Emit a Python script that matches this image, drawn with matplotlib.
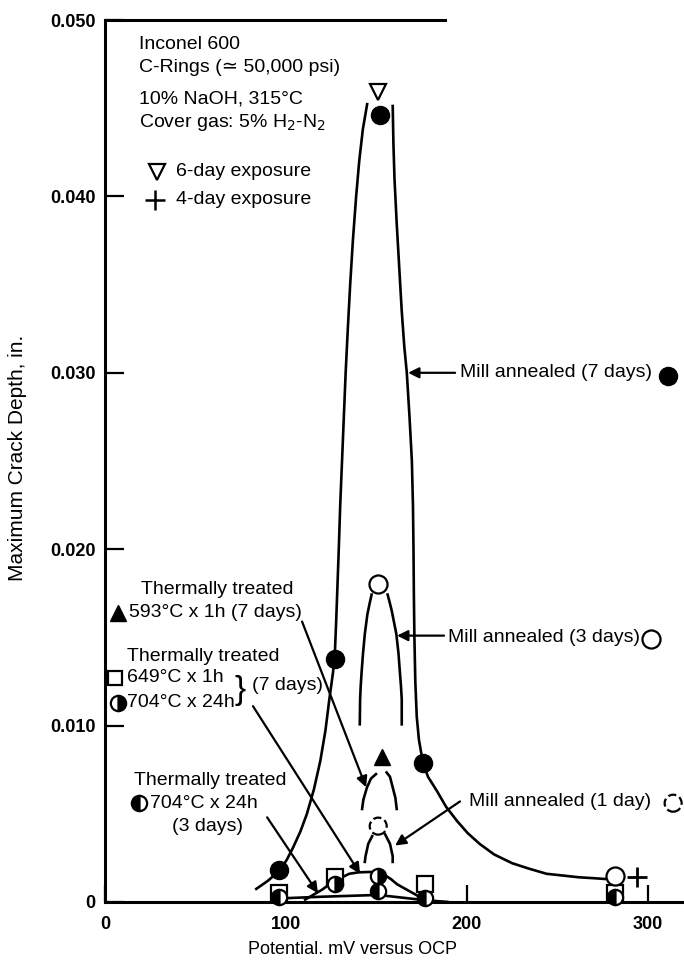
import matplotlib.pyplot as plt
import numpy as np

plt.rcParams['font.family'] = ['Liberation Sans', 'DejaVu Sans']

# --- data (potential mV, max crack depth in.) ---
ma7_x = [96, 127, 152, 176]
ma7_y = [0.0018, 0.0138, 0.0446, 0.0079]
ma3_x = [151, 282]
ma3_y = [0.0180, 0.0015]
ma1_x = [151]
ma1_y = [0.0043]
six_day_x = [151]
six_day_y = [0.0459]
four_day_x = [294]
four_day_y = [0.0014]
tt593_x = [153]
tt593_y = [0.0082]
tt649_x = [96, 127, 177, 282]
tt649_y = [0.0005, 0.0014, 0.0010, 0.0005]
tt704_7_x = [127, 151]
tt704_7_y = [0.0010, 0.0015]
tt704_3_x = [96, 151, 177, 282]
tt704_3_y = [0.0003, 0.0006, 0.0002, 0.0003]

# hand drawn curves
ma7_left_x = [83, 90, 96.7, 100.5, 104, 108, 111.6, 115.5, 119, 121.8, 124, 126, 127,
              127.8, 128.5, 129.2, 130, 131, 132, 133, 134.2, 135.5, 137, 138.8, 140.5,
              142.5, 145]
ma7_left_y = [0.0007, 0.0012, 0.0018, 0.0024, 0.0031, 0.0040, 0.0050, 0.0064, 0.0080,
              0.0097, 0.0115, 0.0130, 0.0140, 0.0160, 0.0180, 0.0200, 0.0225, 0.0250,
              0.0275, 0.0300, 0.0325, 0.0350, 0.0375, 0.0400, 0.0420, 0.0438, 0.0453]
ma7_right_x = [159, 159.4, 160, 161.2, 162.6, 164, 165.4, 166.8, 168.3, 169.6, 170.2,
               170.5, 170.7, 171, 171.5, 172.3, 173.5, 175.7, 178.5, 183.4, 188.5, 194.5,
               200.5, 207, 215, 225, 234, 244, 253, 262, 270, 277]
ma7_right_y = [0.0452, 0.0430, 0.0410, 0.0385, 0.0360, 0.0335, 0.0315, 0.0300, 0.0275,
               0.0250, 0.0225, 0.0200, 0.0175, 0.0150, 0.0125, 0.0105, 0.0092, 0.0079,
               0.0071, 0.0063, 0.0054, 0.0046, 0.0039, 0.0033, 0.0027, 0.0022, 0.0019,
               0.0016, 0.0015, 0.0014, 0.00135, 0.0013]
ma3_left_x = [147.5, 146.2, 145, 143.6, 142.6, 141.8, 141.3, 141, 140.8]
ma3_left_y = [0.0175, 0.0169, 0.0163, 0.0152, 0.0141, 0.0130, 0.0122, 0.0115, 0.0100]
ma3_right_x = [156, 157.3, 158.5, 161, 162.2, 163, 163.6, 164, 164]
ma3_right_y = [0.0175, 0.0170, 0.0165, 0.0152, 0.0141, 0.0130, 0.0122, 0.0115, 0.0100]
tt593_left_x = [150.3, 147, 144.8, 142.8, 142]
tt593_left_y = [0.0073, 0.0070, 0.0065, 0.0058, 0.0052]
tt593_right_x = [155.2, 157.5, 159, 160.5, 161.3]
tt593_right_y = [0.0074, 0.0071, 0.0065, 0.0059, 0.0052]
ma1_left_x = [148, 145.5, 144, 143.5]
ma1_left_y = [0.0038, 0.0033, 0.0026, 0.0022]
ma1_right_x = [154.5, 157.5, 159, 159]
ma1_right_y = [0.0039, 0.0033, 0.0026, 0.0022]
tt7_curve_x = [110, 115, 120, 124, 127, 131, 135, 140, 145, 151, 155, 158, 161.5, 165,
               168.5, 172, 175, 178]
tt7_curve_y = [0.0001, 0.0004, 0.0007, 0.0010, 0.0012, 0.0014, 0.0016, 0.00168, 0.0017,
               0.0017, 0.0015, 0.0013, 0.0010, 0.0008, 0.0006, 0.0004, 0.0002, 0.0001]
tt3_curve_x = [96, 120, 151, 177, 190]
tt3_curve_y = [0.0002, 0.0003, 0.0004, 0.0001, 0.0]

xticks = [0, 100, 200, 300]
xticklabels = ['0', '100', '200', '300']
yticks = [0, 0.01, 0.02, 0.03, 0.04, 0.05]
yticklabels = ['0', '0.010', '0.020', '0.030', '0.040', '0.050']

fig = plt.figure(figsize=(6.84, 9.66), dpi=100)
ax = fig.add_axes([105 / 684, 1 - 902 / 966, 579 / 684, 882 / 966])
ax.set_xlim(0, 320)
ax.set_ylim(0, 0.05)

lw = 1.9
for cx, cy in [(ma7_left_x, ma7_left_y), (ma7_right_x, ma7_right_y),
               (ma3_left_x, ma3_left_y), (ma3_right_x, ma3_right_y),
               (tt593_left_x, tt593_left_y), (tt593_right_x, tt593_right_y),
               (ma1_left_x, ma1_left_y), (ma1_right_x, ma1_right_y),
               (tt7_curve_x, tt7_curve_y), (tt3_curve_x, tt3_curve_y)]:
    ax.plot(cx, cy, color='k', lw=lw, solid_capstyle='butt', solid_joinstyle='round', zorder=2)

# markers
ax.plot(tt649_x, tt649_y, 's', ms=11, mfc='white', mec='k', mew=1.6, zorder=3, clip_on=False)
ax.plot(tt704_3_x, tt704_3_y, 'o', ms=11, fillstyle='left', mfc='k', mfcalt='white',
        mec='k', mew=1.6, zorder=4, clip_on=False)
ax.plot(tt704_7_x, tt704_7_y, 'o', ms=11, fillstyle='right', mfc='k', mfcalt='white',
        mec='k', mew=1.6, zorder=4)
ax.plot(ma7_x, ma7_y, 'o', ms=13, color='k', zorder=5)
ax.plot(ma3_x, ma3_y, 'o', ms=13, mfc='white', mec='k', mew=1.6, zorder=5)
ax.scatter(ma1_x, ma1_y, s=150, facecolors='none', edgecolors='k', linewidths=1.6,
           linestyle='--', zorder=5)
ax.plot(tt593_x, tt593_y, '^', ms=11, color='k', zorder=5)
ax.plot(six_day_x, six_day_y, 'v', ms=11, mfc='white', mec='k', mew=1.6, zorder=5)
ax.plot(four_day_x, four_day_y, '+', ms=14, mew=2, color='k', zorder=5)

# axes styling
for s in ['top', 'right']:
    ax.spines[s].set_visible(False)
for s in ['left', 'bottom']:
    ax.spines[s].set_linewidth(2.2)
ax.plot([0, 188], [0.05, 0.05], color='k', lw=2.2, clip_on=False, zorder=1)
ax.set_xticks(xticks)
ax.set_xticklabels(xticklabels)
ax.set_yticks(yticks)
ax.set_yticklabels(yticklabels)
ax.tick_params(axis='y', direction='in', length=14, width=1.6, labelsize=13, pad=7)
ax.tick_params(axis='x', direction='in', length=12, width=1.6, labelsize=13, pad=10)
for lab in ax.get_xticklabels() + ax.get_yticklabels():
    lab.set_fontweight('bold')

fig.text(353 / 684, 1 - 950 / 966, 'Potential. mV versus OCP', ha='center', va='center',
         fontsize=13)
fig.text(18 / 684, 1 - 458 / 966, 'Maximum Crack Depth, in.', rotation=90,
         ha='center', va='center', fontsize=15,
         family=['Liberation Sans Narrow', 'Liberation Sans', 'DejaVu Sans'])

fs = 14
ax.text(18.8, 0.0486, 'Inconel 600', fontsize=fs, va='center')
ax.text(18.8, 0.0473, 'C-Rings (\u2243 50,000 psi)', fontsize=fs, va='center')
ax.text(18.8, 0.0455, '10% NaOH, 315\u00b0C', fontsize=fs, va='center')
ax.text(18.8, 0.0442, 'Cover gas: 5% H$_2$-N$_2$', fontsize=fs, va='center')
ax.plot([28.7], [0.0414], 'v', ms=11, mfc='white', mec='k', mew=1.6)
ax.text(39.2, 0.0414, '6-day exposure', fontsize=fs, va='center')
ax.plot([27.6], [0.0398], '+', ms=14, mew=1.8, color='k')
ax.text(39.2, 0.0398, '4-day exposure', fontsize=fs, va='center')

arrow = dict(arrowstyle='-|>', lw=1.6, color='k', mutation_scale=16, shrinkA=0, shrinkB=0)

ax.text(196.2, 0.0300, 'Mill annealed (7 days)', fontsize=fs, va='center')
ax.plot([311.2], [0.0298], 'o', ms=13, color='k', clip_on=False)
ax.annotate('', xy=(167.5, 0.0300), xytext=(193.5, 0.0300), arrowprops=arrow)

ax.text(189.6, 0.0150, 'Mill annealed (3 days)', fontsize=fs, va='center')
ax.plot([301.8], [0.0149], 'o', ms=13, mfc='white', mec='k', mew=1.6, clip_on=False)
ax.annotate('', xy=(161.4, 0.0151), xytext=(187.4, 0.0151), arrowprops=arrow)

ax.text(201.2, 0.0057, 'Mill annealed (1 day)', fontsize=fs, va='center')
ax.scatter([314], [0.0056], s=150, facecolors='none', edgecolors='k', linewidths=1.6,
           linestyle='--', clip_on=False)
ax.annotate('', xy=(160.3, 0.0032), xytext=(196.2, 0.0057), arrowprops=arrow)

ax.text(61.9, 0.0177, 'Thermally treated', fontsize=fs, ha='center', va='center')
ax.plot([7.2], [0.0164], '^', ms=11, color='k', clip_on=False)
ax.text(13.3, 0.0164, '593\u00b0C x 1h (7 days)', fontsize=fs, va='center')
ax.annotate('', xy=(144.3, 0.0065), xytext=(108.9, 0.0159), arrowprops=arrow)

ax.text(54.2, 0.0139, 'Thermally treated', fontsize=fs, ha='center', va='center')
ax.plot([5.5], [0.0127], 's', ms=10, mfc='white', mec='k', mew=1.6, clip_on=False)
ax.text(12.2, 0.0127, '649\u00b0C x 1h', fontsize=fs, va='center')
ax.plot([7.2], [0.0113], 'o', ms=11, fillstyle='right', mfc='k', mfcalt='white',
        mec='k', mew=1.6, clip_on=False)
ax.text(12.2, 0.0113, '704\u00b0C x 24h', fontsize=fs, va='center')
ax.text(74.6, 0.0120, '}', fontsize=24, ha='center', va='center')
ax.text(81.3, 0.0123, '(7 days)', fontsize=fs, va='center')
ax.annotate('', xy=(141, 0.0016), xytext=(81.8, 0.0111), arrowprops=arrow)

ax.text(58, 0.0069, 'Thermally treated', fontsize=fs, ha='center', va='center')
ax.plot([18.8], [0.0056], 'o', ms=11, fillstyle='left', mfc='k', mfcalt='white',
        mec='k', mew=1.6)
ax.text(24.9, 0.0056, '704\u00b0C x 24h', fontsize=fs, va='center')
ax.text(56.4, 0.0043, '(3 days)', fontsize=fs, ha='center', va='center')
ax.annotate('', xy=(117.7, 0.0005), xytext=(89.6, 0.0048), arrowprops=arrow)

fig.savefig('out.png', dpi=100)
